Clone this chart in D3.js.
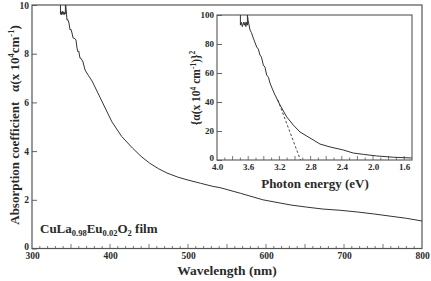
<!DOCTYPE html>
<html>
<head>
<meta charset="utf-8">
<script src="https://cdn.jsdelivr.net/npm/d3@7"></script>
<style>
  body { margin: 0; background: #fff; }
  svg text { font-family: "Liberation Serif", "Times New Roman", serif; font-weight: bold; fill: #2a2a2a; }
  .axis path, .axis line { stroke: #555; }
</style>
</head>
<body>
<svg width="431" height="281"></svg>
<script>
// main plot: wavelength (nm) vs alpha (x 10^4 cm^-1)
const wavelength = [336.5, 336.5, 337.2, 338.0, 338.8, 339.6, 340.4, 341.2, 342.0, 342.8, 342.8, 344.9, 346, 347.4, 348.7, 350, 351.3, 352.6, 355, 356.4, 357.7, 359, 360, 361.5, 363, 365.4, 368, 372, 377, 387, 402.5, 415, 429, 440, 451, 462, 473, 487, 500, 516, 532, 541, 567, 596, 631, 652, 673, 695, 717, 738, 759, 780, 800];
const alpha = [10.2, 9.62, 9.72, 9.60, 9.74, 9.62, 9.72, 9.60, 9.70, 9.64, 10.2, 9.38, 9.40, 9.26, 8.98, 9.0, 8.85, 8.65, 8.62, 8.56, 8.23, 8.07, 8.1, 7.82, 7.8, 7.66, 7.33, 7.12, 6.88, 6.22, 5.2, 4.6, 4.12, 3.78, 3.5, 3.28, 3.1, 2.93, 2.81, 2.68, 2.55, 2.5, 2.27, 2.0, 1.79, 1.7, 1.62, 1.57, 1.5, 1.42, 1.33, 1.24, 1.13];
const xTicks = [300, 400, 500, 600, 700, 800];
const yTicks = [0, 2, 4, 6, 8, 10];

// inset: photon energy (eV) vs alpha^2
const energy = [3.70, 3.70, 3.69, 3.675, 3.66, 3.65, 3.64, 3.63, 3.62, 3.61, 3.61, 3.60, 3.577, 3.56, 3.535, 3.52, 3.491, 3.47, 3.449, 3.43, 3.406, 3.385, 3.363, 3.34, 3.321, 3.29, 3.256, 3.192, 3.106, 3.022, 2.936, 2.808, 2.679, 2.551, 2.381, 2.253, 2.124, 1.953, 1.74, 1.504];
const alphaSq = [100, 93, 95, 92, 95, 93, 95, 92, 95, 93, 100, 96, 89.7, 88, 84.1, 82, 77.9, 76.5, 72.4, 71, 65.5, 64, 58.6, 57, 53.1, 49, 44.8, 37.9, 29.7, 24.1, 19.3, 15.2, 11.0, 9.0, 6.9, 4.8, 3.9, 2.8, 1.9, 1.4];
const fitEnergy = [3.22, 2.93];
const fitValue = [41.4, 0];
const eTicks = [4.0, 3.6, 3.2, 2.8, 2.4, 2.0, 1.6];
const sqTicks = [0, 20, 40, 60, 80, 100];

const svg = d3.select('svg');
const ink = '#333';

// ---------- main plot ----------
const x = d3.scaleLinear().domain([300, 800]).range([32, 422]);
const y = d3.scaleLinear().domain([0, 10]).range([248.5, 5]);

svg.append('rect')
   .attr('x', 32).attr('y', 5).attr('width', 390).attr('height', 243.5)
   .attr('fill', 'none').attr('stroke', '#555').attr('stroke-width', 1.2);

// minor ticks along the bottom, every 10 nm, longer every 50
svg.append('g').selectAll('line')
   .data(d3.range(310, 800, 10))
   .join('line')
   .attr('x1', d => x(d)).attr('x2', d => x(d))
   .attr('y1', 248.5).attr('y2', d => 248.5 - (d % 50 === 0 ? 4.5 : 2.5))
   .attr('stroke', '#555').attr('stroke-width', 0.8);

const xAx = svg.append('g').attr('class', 'axis').attr('transform', 'translate(0,248.5)')
   .call(d3.axisBottom(x).tickValues(xTicks).tickSize(0).tickPadding(4).tickFormat(d3.format('d')));
xAx.select('.domain').remove();
xAx.selectAll('text').attr('font-size', 9.5).attr('font-family', null).attr('fill', null);

const yAx = svg.append('g').attr('class', 'axis').attr('transform', 'translate(32,0)')
   .call(d3.axisRight(y).tickValues(yTicks).tickSize(5).tickFormat(d3.format('d')));
yAx.select('.domain').remove();
yAx.selectAll('line').attr('stroke-width', 0.9);
yAx.selectAll('text').attr('x', -3).attr('text-anchor', 'end').attr('font-size', 9.5).attr('font-family', null).attr('fill', null)
   .attr('dy', d => d === 0 ? '0.1em' : '0.32em');

svg.append('clipPath').attr('id', 'clip-main')
   .append('rect').attr('x', 32).attr('y', 5).attr('width', 390).attr('height', 243.5);

svg.append('path')
   .datum(d3.zip(wavelength, alpha))
   .attr('clip-path', 'url(#clip-main)')
   .attr('fill', 'none').attr('stroke', ink).attr('stroke-width', 1)
   .attr('d', d3.line().x(d => x(d[0])).y(d => y(d[1])));

svg.append('text')
   .attr('x', 227).attr('y', 275).attr('text-anchor', 'middle').attr('font-size', 13.5)
   .text('Wavelength (nm)');

const yl = svg.append('text')
   .attr('transform', 'translate(19,125) rotate(-90)')
   .attr('text-anchor', 'middle').attr('font-size', 13);
yl.append('tspan').text('Absorption coefficient\u00a0\u00a0\u00a0\u03b1(x 10');
yl.append('tspan').attr('dy', -5).attr('font-size', 8.5).text('4');
yl.append('tspan').attr('dy', 5).text('cm');
yl.append('tspan').attr('dy', -5).attr('font-size', 8.5).text('-1');
yl.append('tspan').attr('dy', 5).text(')');

const lab = svg.append('text').attr('x', 40).attr('y', 233).attr('font-size', 13);
lab.append('tspan').text('CuLa');
lab.append('tspan').attr('dy', 3).attr('font-size', 8.5).text('0.98');
lab.append('tspan').attr('dy', -3).text('Eu');
lab.append('tspan').attr('dy', 3).attr('font-size', 8.5).text('0.02');
lab.append('tspan').attr('dy', -3).text('O');
lab.append('tspan').attr('dy', 3).attr('font-size', 8.5).text('2');
lab.append('tspan').attr('dy', -3).text(' film');

// ---------- inset ----------
const ex = d3.scaleLinear().domain([4.0, 1.5]).range([217, 412]);
const ey = d3.scaleLinear().domain([0, 100]).range([160, 15]);

svg.append('rect')
   .attr('x', 217).attr('y', 15).attr('width', 195).attr('height', 145)
   .attr('fill', '#fff').attr('stroke', '#555').attr('stroke-width', 1.1);

svg.append('g').selectAll('line')
   .data(d3.range(39, 15, -1).map(d => d / 10))
   .join('line')
   .attr('x1', d => ex(d)).attr('x2', d => ex(d))
   .attr('y1', 160).attr('y2', (d, i) => 160 - (i % 2 === 1 ? 4 : 2.5))
   .attr('stroke', '#555').attr('stroke-width', 0.8);

const exAx = svg.append('g').attr('class', 'axis').attr('transform', 'translate(0,160)')
   .call(d3.axisBottom(ex).tickValues(eTicks).tickSize(0).tickPadding(4).tickFormat(d3.format('.1f')));
exAx.select('.domain').remove();
exAx.selectAll('text').attr('font-size', 9).attr('font-family', null).attr('fill', null);

const eyAx = svg.append('g').attr('class', 'axis').attr('transform', 'translate(217,0)')
   .call(d3.axisRight(ey).tickValues(sqTicks).tickSize(5).tickFormat(d3.format('d')));
eyAx.select('.domain').remove();
eyAx.selectAll('line').attr('stroke-width', 0.9);
eyAx.selectAll('text').attr('x', -3).attr('text-anchor', 'end').attr('font-size', 9).attr('font-family', null).attr('fill', null)
   .attr('dy', d => d === 0 ? '0.1em' : '0.32em');

svg.append('clipPath').attr('id', 'clip-inset')
   .append('rect').attr('x', 217).attr('y', 15).attr('width', 195).attr('height', 145);

svg.append('path')
   .datum(d3.zip(energy, alphaSq))
   .attr('clip-path', 'url(#clip-inset)')
   .attr('fill', 'none').attr('stroke', ink).attr('stroke-width', 1)
   .attr('d', d3.line().x(d => ex(d[0])).y(d => ey(d[1])));

svg.append('path')
   .datum(d3.zip(fitEnergy, fitValue))
   .attr('fill', 'none').attr('stroke', ink).attr('stroke-width', 0.9)
   .attr('stroke-dasharray', '2.5,2')
   .attr('d', d3.line().x(d => ex(d[0])).y(d => ey(d[1])));

svg.append('text')
   .attr('x', 315).attr('y', 188).attr('text-anchor', 'middle').attr('font-size', 13)
   .text('Photon energy (eV)');

const iyl = svg.append('text')
   .attr('transform', 'translate(200,88) rotate(-90)')
   .attr('text-anchor', 'middle').attr('font-size', 11.5);
iyl.append('tspan').text('{\u03b1(x 10');
iyl.append('tspan').attr('dy', -4.5).attr('font-size', 7.5).text('4');
iyl.append('tspan').attr('dy', 4.5).text(' cm');
iyl.append('tspan').attr('dy', -4.5).attr('font-size', 7.5).text('-1');
iyl.append('tspan').attr('dy', 4.5).text(')}');
iyl.append('tspan').attr('dy', -5.5).attr('font-size', 7.5).text('2');
</script>
</body>
</html>
